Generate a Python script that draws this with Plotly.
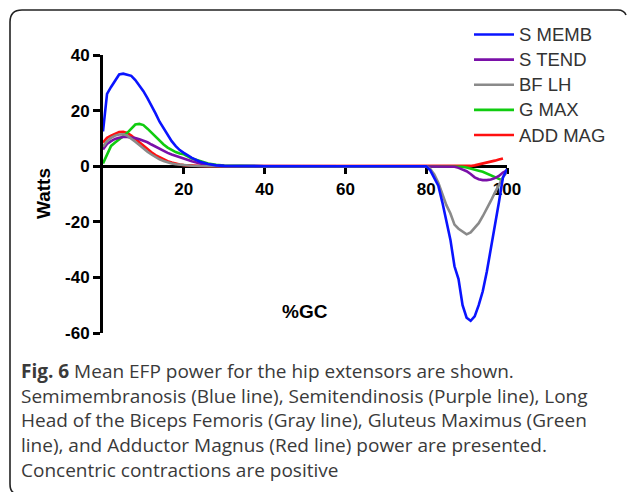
import plotly.graph_objects as go

# ---- data ----
gc = [0, 1, 2, 3, 4, 5, 6, 7, 8, 9, 10, 11, 12, 13, 14, 15, 16, 17, 18, 19, 20,
      22, 24, 26, 28, 30, 40, 50, 60, 70, 80,
      81, 82, 83, 84, 85, 86, 87, 88, 89, 90, 91, 92, 93, 94, 95, 96, 97, 98, 99, 100]

s_memb = [12.5, 26, 28.5, 31, 33, 33.3, 33, 32.5, 31, 29, 27, 24.5, 22, 19, 16, 13.5, 11, 9, 7.2, 5.8, 4.8,
          3.0, 1.6, 0.8, 0.3, 0.1, 0, 0, 0, 0, 0,
          -1.5, -4, -7, -13, -20, -26.5, -36, -40.6, -50, -54.5, -55.6, -54, -50, -45, -38, -30, -22.5, -13, -4, -1]

s_tend = [6, 8, 9, 9.8, 10.2, 10.5, 10.5, 10.4, 10.1, 9.7, 9.2, 8.6, 7.8, 7, 6.2, 5.5, 4.8, 4.2, 3.7, 3.2, 2.7,
          1.8, 1.0, 0.5, 0.2, 0.1, 0, 0, 0, 0, 0,
          0, 0, 0, 0, 0, 0, -0.2, -0.6, -1.1, -1.8, -2.8, -4, -4.7, -5, -5, -4.8, -4.3, -3.5, -2.3, -1.5]

bf_lh = [7, 9, 10.2, 11, 11.4, 11.5, 11, 10, 8.8, 7.6, 6.3, 5.2, 4.2, 3.3, 2.5, 1.9, 1.4, 1.0, 0.7, 0.5, 0.3,
         0.15, 0.05, 0, 0, 0, 0, 0, 0, 0, 0,
         -1, -3, -6, -10, -14, -17, -21, -22.5, -23.5, -24.5, -23.8, -22, -20.5, -18, -15.5, -12.5, -9.5, -6.5, -4, -2]

g_max = [1, 4.5, 7.3, 8.5, 9.8, 10.8, 12, 13.5, 15, 15.2, 14.8, 13.5, 12, 10.5, 9, 7.8, 6.7, 5.8, 5.1, 4.6, 4.3,
         2.8, 1.8, 1.0, 0.5, 0.2, 0, 0, 0, 0, 0,
         0, 0, 0, 0, 0, 0, 0, 0, -0.2, -0.5, -0.8, -1.2, -1.6, -2, -2.6, -3.2, -3.9, -4.6, -5.2, None]

add_mag = [8.5, 10.2, 11, 11.8, 12.3, 12.4, 12, 11, 9.8, 8.5, 7.2, 6, 5, 4, 3.2, 2.4, 1.8, 1.3, 0.9, 0.6, 0.4,
           0.2, 0.1, 0, 0, 0, 0, 0, 0, 0, 0,
           0, 0, 0, 0, 0, 0, 0, 0, 0, 0, 0.1, 0.3, 0.6, 0.9, 1.2, 1.6, 2.0, 2.4, 2.8, None]

series_names = ["S MEMB", "S TEND", "BF LH", "G MAX", "ADD MAG"]
series_vals = [s_memb, s_tend, bf_lh, g_max, add_mag]
series_colors = ["#0a14ff", "#7a10a8", "#8a8a8a", "#10cc10", "#ff1010"]

x_ticks = [20, 40, 60, 80, 100]
y_ticks = [40, 20, 0, -20, -40, -60]

caption = ("<b>Fig. 6</b> Mean EFP power for the hip extensors are shown.<br>"
           "Semimembranosis (Blue line), Semitendinosis (Purple line), Long<br>"
           "Head of the Biceps Femoris (Gray line), Gluteus Maximus (Green<br>"
           "line), and Adductor Magnus (Red line) power are presented.<br>"
           "Concentric contractions are positive")

# ---- layout geometry ----
W, H = 627, 492
ML, MR, MT, MB = 103, 120, 55, 159
PW, PH = W - ML - MR, H - MT - MB


def fx(px):
    return (px - ML) / PW


def fy(py):
    return (H - MB - py) / PH


SANS = "Liberation Sans, Arial"

fig = go.Figure()
draw_order = [4, 3, 1, 2, 0]
for i in draw_order:
    fig.add_trace(go.Scatter(
        x=gc, y=series_vals[i], mode="lines",
        name=f'<span style="font-size:18.5px">{series_names[i]}</span>',
        line=dict(color=series_colors[i], width=2.6),
        legendrank=i + 1, connectgaps=False,
    ))

border = (f"M {fx(14)},{fy(493)} Q {fx(10)},{fy(491)} {fx(10)},{fy(484)} "
          f"L {fx(10)},{fy(22)} Q {fx(10)},{fy(10)} {fx(22)},{fy(10)} "
          f"L {fx(618)},{fy(10)} Q {fx(624)},{fy(10)} {fx(626)},{fy(15)}")

fig.update_layout(
    width=W, height=H,
    margin=dict(l=ML, r=MR, t=MT, b=MB, pad=0, autoexpand=False),
    paper_bgcolor="white", plot_bgcolor="white",
    showlegend=True,
    legend=dict(
        xref="paper", yref="paper",
        x=fx(469), y=fy(17), xanchor="left", yanchor="top",
        font=dict(family=SANS, size=17, color="#333333"),
        bgcolor="rgba(0,0,0,0)", itemwidth=40, tracegroupgap=0,
    ),
    xaxis=dict(
        range=[0, 100], anchor="free", position=0.6, side="bottom",
        showline=True, linecolor="black", linewidth=2.8, layer="below traces",
        ticks="outside", ticklen=6, tickwidth=2.5, tickcolor="black",
        tickvals=x_ticks, ticktext=[str(v) for v in x_ticks],
        tickfont=dict(family=SANS, size=17, color="black", weight="bold"),
        showgrid=False, zeroline=False,
    ),
    yaxis=dict(
        range=[-60, 40],
        showline=True, linecolor="black", linewidth=2.8, layer="below traces",
        ticks="outside", ticklen=7, tickwidth=2.5, tickcolor="black",
        tickvals=y_ticks, ticktext=[str(v) for v in y_ticks],
        tickfont=dict(family=SANS, size=17, color="black", weight="bold"),
        showgrid=False, zeroline=False,
    ),
    shapes=[dict(type="path", xref="paper", yref="paper", path=border,
                 line=dict(color="#222222", width=1.6), layer="below")],
    annotations=[
        dict(text="<b>Watts</b>", xref="paper", yref="paper", x=fx(43), y=fy(194),
             textangle=-90, showarrow=False, xanchor="center", yanchor="middle",
             font=dict(family=SANS, size=19, color="black")),
        dict(text="<b>%GC</b>", xref="paper", yref="paper", x=fx(305), y=fy(311),
             showarrow=False, xanchor="center", yanchor="middle",
             font=dict(family=SANS, size=19, color="black")),
        dict(text=caption, xref="paper", yref="paper", x=fx(19), y=fy(356),
             showarrow=False, xanchor="left", yanchor="top", align="left",
             font=dict(family="Open Sans", size=19, color="#3a3a3a")),
    ],
)

fig.write_html("out.html")
